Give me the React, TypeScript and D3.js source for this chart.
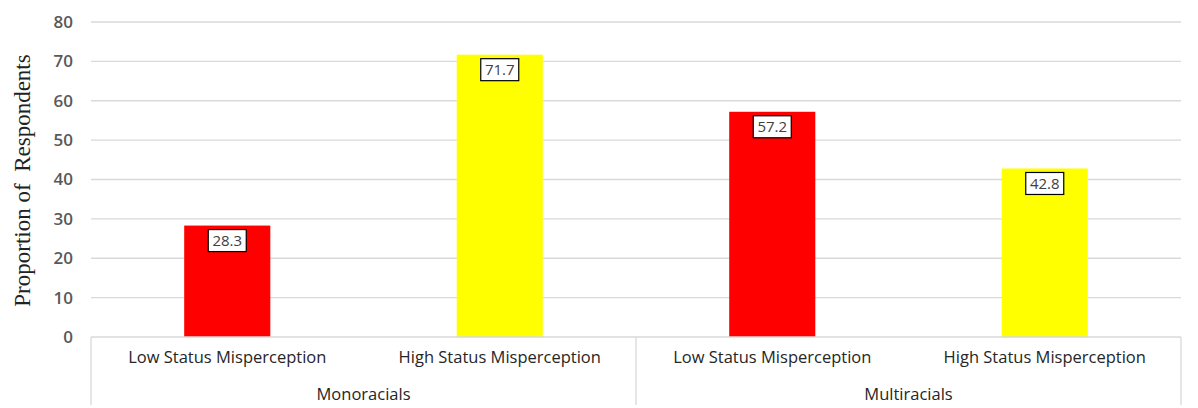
import React from "react";
import * as d3 from "d3";

const categories = [
  "Low Status Misperception",
  "High Status Misperception",
  "Low Status Misperception",
  "High Status Misperception",
];
const groups = ["Monoracials", "Multiracials"];
const values = [28.3, 71.7, 57.2, 42.8];
const barColors = ["#ff0000", "#ffff00", "#ff0000", "#ffff00"];
const yTicks = [0, 10, 20, 30, 40, 50, 60, 70, 80];

const W = 1198;
const H = 408;
const left = 91;
const right = 1181;
const top = 22;
const bottom = 337;

export default function App() {
  const y = d3.scaleLinear().domain([0, 80]).range([bottom, top]);
  const x = d3
    .scaleBand<number>()
    .domain(values.map((_, i) => i))
    .range([left, right])
    .paddingInner(0.684)
    .paddingOuter(0.342);
  const g = d3
    .scaleBand<number>()
    .domain(groups.map((_, i) => i))
    .range([left, right]);

  const font = "'Open Sans', sans-serif";
  return (
    <svg
      width={W}
      height={H}
      style={{ position: "absolute", left: 0, top: 0, background: "#fff" }}
    >
      {yTicks.map((t) => (
        <g key={t}>
          {t > 0 && (
            <line x1={left} x2={right} y1={y(t)} y2={y(t)} stroke="#d9d9d9" strokeWidth={1.3} />
          )}
          <text
            x={73}
            y={y(t)}
            dy="0.35em"
            textAnchor="end"
            fontFamily={font}
            fontSize={17}
            fontWeight={600}
            fill="#595959"
          >
            {t}
          </text>
        </g>
      ))}
      <text
        transform={`translate(30,${(top + bottom) / 2 + 1}) rotate(-90)`}
        textAnchor="middle"
        fontFamily="'Liberation Serif', 'Times New Roman', serif"
        fontSize={23}
        fill="#222"
        style={{ whiteSpace: "pre" }}
      >
        {"Proportion of  Respondents"}
      </text>

      {values.map((v, i) => (
        <rect
          key={i}
          x={x(i)}
          width={x.bandwidth()}
          y={y(v)}
          height={bottom - y(v)}
          fill={barColors[i]}
        />
      ))}

      {/* category axis frame */}
      <line x1={left} x2={right} y1={bottom} y2={bottom} stroke="#d9d9d9" strokeWidth={1.3} />
      {[left, g(1)!, right].map((xx, i) => (
        <line key={i} x1={xx} x2={xx} y1={bottom} y2={405} stroke="#d9d9d9" strokeWidth={1.3} />
      ))}
      {categories.map((c, i) => (
        <text
          key={i}
          x={x(i)! + x.bandwidth() / 2}
          y={357}
          dy="0.35em"
          textAnchor="middle"
          fontFamily={font}
          fontSize={16.5}
          fill="#262626"
        >
          {c}
        </text>
      ))}
      {groups.map((c, i) => (
        <text
          key={i}
          x={g(i)! + g.bandwidth() / 2}
          y={394}
          dy="0.35em"
          textAnchor="middle"
          fontFamily={font}
          fontSize={16.5}
          fill="#262626"
        >
          {c}
        </text>
      ))}

      {values.map((v, i) => {
        const cx = x(i)! + x.bandwidth() / 2;
        const by = y(v) + 4;
        return (
          <g key={i}>
            <rect x={cx - 19} y={by} width={38} height={22} fill="#fff" stroke="#000" strokeWidth={1.2} />
            <text
              x={cx}
              y={by + 11}
              dy="0.35em"
              textAnchor="middle"
              fontFamily={font}
              fontSize={15}
              fill="#404040"
            >
              {v.toFixed(1)}
            </text>
          </g>
        );
      })}
    </svg>
  );
}
